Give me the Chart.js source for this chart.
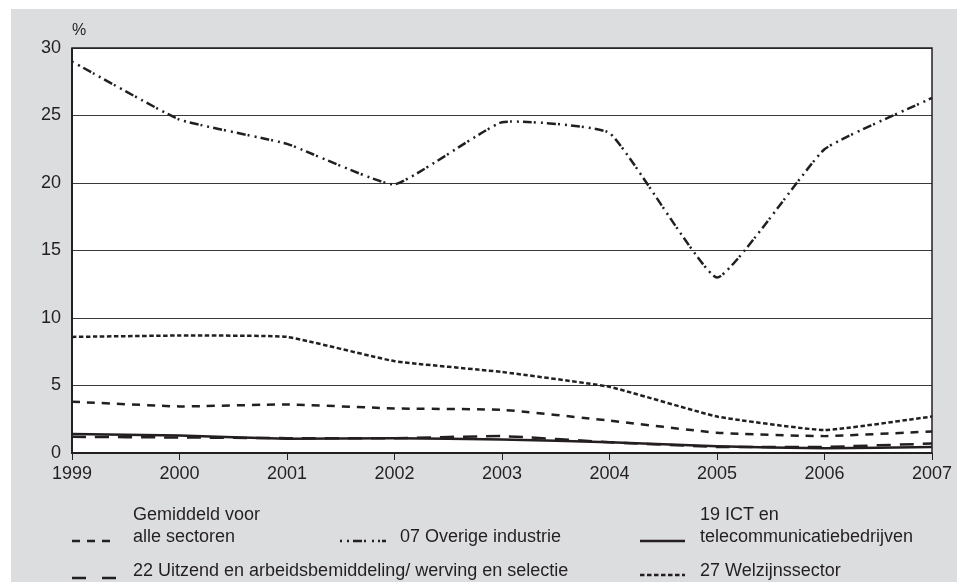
<!DOCTYPE html>
<html>
<head>
<meta charset="utf-8">
<script src="https://cdn.jsdelivr.net/npm/chart.js@4"></script>
<style>
  html,body{margin:0;padding:0;background:#fff;}
  body{width:966px;height:582px;position:relative;overflow:hidden;font-family:"Liberation Sans",Arial,sans-serif;color:#231f20;}
  #bg{position:absolute;left:11px;top:9px;width:946px;height:600px;background:#dcdddf;}
  #wrap{position:absolute;left:0;top:0;width:966px;height:582px;}
  .t{position:absolute;font-size:18px;line-height:22px;white-space:nowrap;}
  svg.s{position:absolute;overflow:visible;}
</style>
</head>
<body>
<div id="bg"></div>
<div id="wrap"><canvas id="c" width="966" height="582"></canvas></div>
<div class="t" style="left:72px;top:19px;font-size:16px;">%</div>

<svg class="s" style="left:72px;top:536px" width="44" height="10"><line x1="0" y1="5" x2="42" y2="5" stroke="#231f20" stroke-width="2.5" stroke-dasharray="8,7"/></svg>
<div class="t" style="left:133px;top:503px;">Gemiddeld voor</div>
<div class="t" style="left:133px;top:525px;">alle sectoren</div>

<svg class="s" style="left:340px;top:536px" width="48" height="10"><line x1="0" y1="5" x2="46" y2="5" stroke="#231f20" stroke-width="2.5" stroke-dasharray="2,5,2,4,9,2,2,6,2,4,2"/></svg>
<div class="t" style="left:400px;top:525px;">07 Overige industrie</div>

<svg class="s" style="left:640px;top:536px" width="46" height="10"><line x1="0" y1="5" x2="45" y2="5" stroke="#231f20" stroke-width="2.5"/></svg>
<div class="t" style="left:700px;top:503px;">19 ICT en</div>
<div class="t" style="left:700px;top:525px;">telecommunicatiebedrijven</div>

<svg class="s" style="left:72px;top:573px" width="46" height="10"><line x1="0" y1="5" x2="44" y2="5" stroke="#231f20" stroke-width="2.5" stroke-dasharray="14,16"/></svg>
<div class="t" style="left:133px;top:559px;">22 Uitzend en arbeidsbemiddeling/ werving en selectie</div>

<svg class="s" style="left:640px;top:570px" width="46" height="10"><line x1="0" y1="5" x2="45" y2="5" stroke="#231f20" stroke-width="2.5" stroke-dasharray="4.5,2.5"/></svg>
<div class="t" style="left:700px;top:559px;">27 Welzijnssector</div>

<script>
const years = ["1999","2000","2001","2002","2003","2004","2005","2006","2007"];
const yTicks = [0,5,10,15,20,25,30];
const gemiddeld = [3.8, 3.45, 3.6, 3.3, 3.2, 2.4, 1.5, 1.25, 1.6];
const overigeIndustrie = [29.0, 24.7, 22.9, 19.9, 24.5, 23.7, 13.0, 22.5, 26.3];
const ict = [1.4, 1.3, 1.05, 1.1, 1.0, 0.8, 0.5, 0.35, 0.45];
const uitzend = [1.2, 1.15, 1.1, 1.1, 1.25, 0.8, 0.45, 0.45, 0.7];
const welzijn = [8.6, 8.7, 8.6, 6.8, 6.0, 4.9, 2.7, 1.7, 2.7];

const ink = '#231f20';

const areaPlugin = {
  id:'area',
  beforeDatasetsDraw(chart){},
  beforeDraw(chart){
    const {ctx, chartArea:a} = chart;
    ctx.save();
    ctx.fillStyle = '#fff';
    ctx.fillRect(a.left, a.top, a.right-a.left, a.bottom-a.top);
    ctx.restore();
  },
  afterDraw(chart){
    const {ctx, chartArea:a} = chart;
    ctx.save();
    ctx.strokeStyle = ink;
    ctx.lineWidth = 1.5;
    ctx.strokeRect(a.left, a.top, a.right-a.left, a.bottom-a.top);
    ctx.lineWidth = 2;
    ctx.beginPath();
    ctx.moveTo(a.left, a.top); ctx.lineTo(a.left, a.bottom); ctx.lineTo(a.right, a.bottom);
    ctx.stroke();
    ctx.restore();
  }
};

function ds(label, data, dash, w){
  return {label, data, borderColor: ink, backgroundColor: ink, borderWidth: w||2.5,
    borderDash: dash, pointRadius:0, tension:0.12, fill:false, borderCapStyle:'butt'};
}

new Chart(document.getElementById('c'), {
  type:'line',
  data:{
    labels: years,
    datasets:[
      ds('27 Welzijnssector', welzijn, [4.5,2.5]),
      ds('Gemiddeld voor alle sectoren', gemiddeld, [8,7]),
      ds('22 Uitzend en arbeidsbemiddeling/ werving en selectie', uitzend, [14,9]),
      ds('19 ICT en telecommunicatiebedrijven', ict, []),
      ds('07 Overige industrie', overigeIndustrie, [2,5,2,4,9,2])
    ]
  },
  options:{
    responsive:false,
    animation:false,
    layout:{padding:{top:48, right:34, bottom:99, left:0}},
    plugins:{legend:{display:false}, tooltip:{enabled:false}},
    scales:{
      x:{
        type:'category',
        offset:false,
        afterFit(s){ s.height = 30; },
        grid:{display:true, drawOnChartArea:false, drawTicks:true, tickLength:7, color:ink, lineWidth:1},
        border:{display:false},
        ticks:{color:ink, font:{family:'"Liberation Sans", Arial, sans-serif', size:18}, padding:3, maxRotation:0, autoSkip:false}
      },
      y:{
        min:0, max:30,
        afterFit(s){ s.width = 72; },
        afterBuildTicks(s){ s.ticks = yTicks.map(v=>({value:v})); },
        grid:{color:'#3a3a3a', lineWidth:1, drawTicks:false},
        border:{display:false},
        ticks:{color:ink, font:{family:'"Liberation Sans", Arial, sans-serif', size:18}, padding:11}
      }
    }
  },
  plugins:[areaPlugin]
});
</script>
</body>
</html>
